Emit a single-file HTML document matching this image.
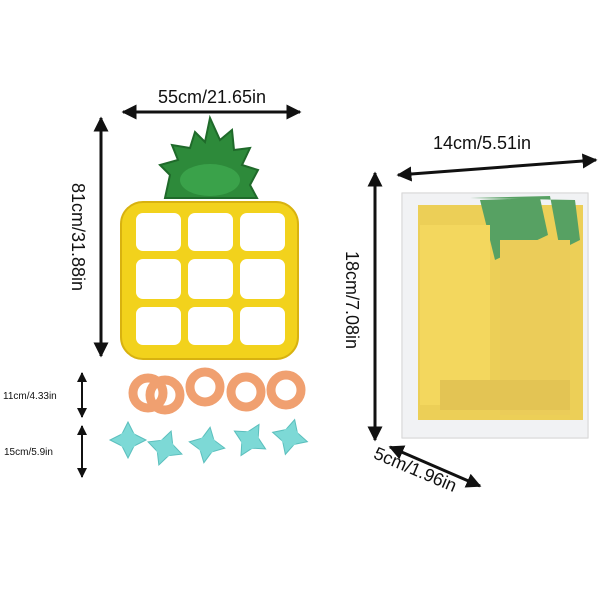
<!DOCTYPE html>
<html><head><style>body{margin:0;background:#fff}svg{display:block}</style></head><body>
<svg width="600" height="600" viewBox="0 0 600 600" xmlns="http://www.w3.org/2000/svg" font-family="Liberation Sans, sans-serif">
<defs>
<marker id="a" viewBox="0 0 10 10" refX="9" refY="5" markerWidth="5" markerHeight="5" orient="auto-start-reverse"><path d="M0,0L10,5L0,10z" fill="#111"/></marker>
</defs>
<rect width="600" height="600" fill="#fff"/>
<line x1="123" y1="112" x2="300" y2="112" stroke="#111" stroke-width="3" marker-start="url(#a)" marker-end="url(#a)"/>
<text x="212" y="103" font-size="18" text-anchor="middle" fill="#111">55cm/21.65in</text>
<line x1="101" y1="118" x2="101" y2="356" stroke="#111" stroke-width="3" marker-start="url(#a)" marker-end="url(#a)"/>
<text transform="translate(72,237) rotate(90)" font-size="18" text-anchor="middle" fill="#111">81cm/31.88in</text>
<path d="M165,198 L170,175 L160,165 L178,160 L172,145 L190,148 L195,132 L205,142 L210,118 L220,140 L232,130 L234,150 L250,148 L242,165 L258,170 L250,185 L257,198 Z" fill="#2d8a3a" stroke="#1f6a2a" stroke-width="2"/>
<ellipse cx="210" cy="180" rx="30" ry="16" fill="#3aa24a"/>
<rect x="121" y="202" width="177" height="157" rx="22" fill="#f2d21c" stroke="#d8b210" stroke-width="2"/>
<g fill="#fff">
<rect x="136" y="213" width="45" height="38" rx="7"/><rect x="188" y="213" width="45" height="38" rx="7"/><rect x="240" y="213" width="45" height="38" rx="7"/>
<rect x="136" y="259" width="45" height="40" rx="7"/><rect x="188" y="259" width="45" height="40" rx="7"/><rect x="240" y="259" width="45" height="40" rx="7"/>
<rect x="136" y="307" width="45" height="38" rx="7"/><rect x="188" y="307" width="45" height="38" rx="7"/><rect x="240" y="307" width="45" height="38" rx="7"/>
</g>
<g fill="none" stroke="#f0a070" stroke-width="9">
<circle cx="148" cy="393" r="15"/><circle cx="165" cy="395" r="15"/><circle cx="205" cy="387" r="15"/><circle cx="246" cy="392" r="15"/><circle cx="286" cy="390" r="15"/>
</g>
<line x1="82" y1="373" x2="82" y2="417" stroke="#111" stroke-width="2" marker-start="url(#a)" marker-end="url(#a)"/>
<text x="3" y="399" font-size="10" fill="#111">11cm/4.33in</text>
<g fill="#7dd9d6" stroke="#5bbfbd">
<g transform="translate(128,440)"><path d="M0,-18 L6,-6 L18,0 L6,6 L0,18 L-6,6 L-18,0 L-6,-6Z"/></g>
<g transform="translate(165,448) rotate(20)"><path d="M0,-18 L6,-6 L18,0 L6,6 L0,18 L-6,6 L-18,0 L-6,-6Z"/></g>
<g transform="translate(207,445) rotate(10)"><path d="M0,-18 L6,-6 L18,0 L6,6 L0,18 L-6,6 L-18,0 L-6,-6Z"/></g>
<g transform="translate(250,440) rotate(30)"><path d="M0,-18 L6,-6 L18,0 L6,6 L0,18 L-6,6 L-18,0 L-6,-6Z"/></g>
<g transform="translate(290,437) rotate(15)"><path d="M0,-18 L6,-6 L18,0 L6,6 L0,18 L-6,6 L-18,0 L-6,-6Z"/></g>
</g>
<g fill="#7dd9d6"><circle cx="128" cy="440" r="9"/><circle cx="165" cy="448" r="9"/><circle cx="207" cy="445" r="9"/><circle cx="250" cy="440" r="9"/><circle cx="290" cy="437" r="9"/></g>
<line x1="82" y1="426" x2="82" y2="477" stroke="#111" stroke-width="2" marker-start="url(#a)" marker-end="url(#a)"/>
<text x="4" y="455" font-size="10" fill="#111">15cm/5.9in</text>
<line x1="398" y1="175" x2="596" y2="160" stroke="#111" stroke-width="3" marker-start="url(#a)" marker-end="url(#a)"/>
<text x="482" y="149" font-size="18" text-anchor="middle" fill="#111">14cm/5.51in</text>
<line x1="375" y1="173" x2="375" y2="440" stroke="#111" stroke-width="3" marker-start="url(#a)" marker-end="url(#a)"/>
<text transform="translate(346,300) rotate(90)" font-size="18" text-anchor="middle" fill="#111">18cm/7.08in</text>
<line x1="390" y1="447" x2="480" y2="486" stroke="#111" stroke-width="3" marker-start="url(#a)" marker-end="url(#a)"/>
<text transform="translate(413,475) rotate(23)" font-size="18" text-anchor="middle" fill="#111">5cm/1.96in</text>
<rect x="402" y="193" width="186" height="245" fill="#eeeff2" stroke="#ccc"/>
<rect x="418" y="205" width="165" height="215" fill="#e8c42e"/>
<path d="M470,198 L550,196 L560,250 L580,240 L575,200 Z" fill="#2e8a3c"/>
<path d="M480,200 L540,198 L548,235 L495,260 Z" fill="#2e8a3c"/>
<rect x="420" y="225" width="70" height="180" fill="#f0cd36"/>
<rect x="500" y="240" width="70" height="175" fill="#e6c030"/>
<rect x="440" y="380" width="130" height="30" fill="#dcb62a"/>
<rect x="402" y="193" width="186" height="245" fill="#ffffff" opacity="0.2"/>
</svg>
</body></html>
